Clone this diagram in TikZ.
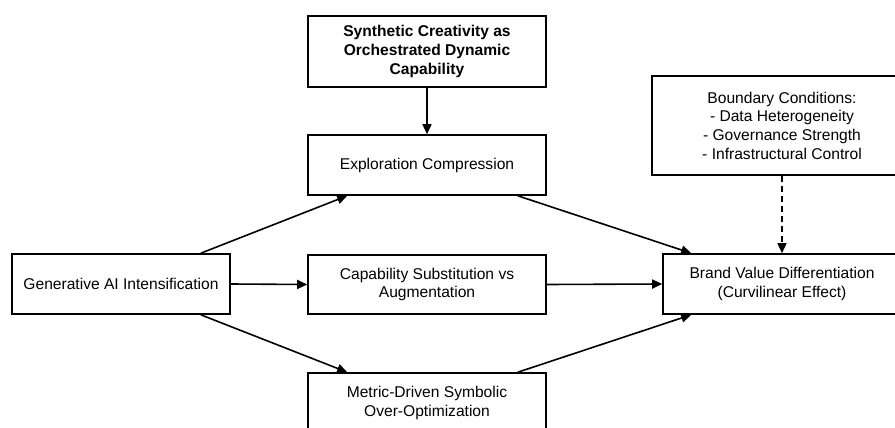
\documentclass[tikz,border=0pt]{standalone}
\usepackage{fontspec}
\setmainfont{Liberation Sans}
\usetikzlibrary{arrows.meta, calc}

\tikzset{
  box/.style={draw, line width=1.6pt, align=center, inner sep=0pt,
    font=\fontsize{15.6}{18.7}\selectfont},
  link/.style={line width=1.6pt, -{Triangle[length=10pt, width=9pt]}}
}

\begin{document}
\begin{tikzpicture}[x=1pt, y=-1pt]
  \useasboundingbox (0,0) rectangle (895,428);
  \clip (0,0) rectangle (895,428);

  % boxes
  \node[box, minimum width=238, minimum height=71, font=\fontsize{15.6}{18.7}\selectfont\bfseries] (syn) at (427,51.5)
    {Synthetic Creativity as\\Orchestrated Dynamic\\Capability};
  \node[box, minimum width=238, minimum height=60] (explore) at (427,165) {Exploration Compression};
  \node[box, minimum width=238, minimum height=59] (subst) at (427,284.5) {Capability Substitution vs\\Augmentation};
  \node[box, minimum width=238, minimum height=60] (metric) at (427,403) {Metric-Driven Symbolic\\Over-Optimization};
  \node[box, minimum width=218, minimum height=60] (genai) at (121,284) {Generative AI Intensification};
  \node[box, minimum width=238, minimum height=60] (brand) at (782,284) {Brand Value Differentiation\\(Curvilinear Effect)};
  \node[box, minimum width=260, minimum height=99] (bound) at (782,125.5)
    {Boundary Conditions:\\- Data Heterogeneity\\- Governance Strength\\- Infrastructural Control};

  % arrows
  \draw[link] (syn.south) -- (explore.north);
  \draw[link] ($(genai.north east)+(-30,0)$) -- ($(explore.south west)+(40,0)$);
  \draw[link] (genai.east) -- (subst.west);
  \draw[link] ($(genai.south east)+(-30,0)$) -- ($(metric.north west)+(40,0)$);
  \draw[link] ($(explore.south east)+(-29,0)$) -- ($(brand.north west)+(29,0)$);
  \draw[link] (subst.east) -- (brand.west);
  \draw[link] ($(metric.north east)+(-29,0)$) -- ($(brand.south west)+(29,0)$);
  \draw[link, dash pattern=on 6pt off 4pt] (bound.south) -- (brand.north);
\end{tikzpicture}
\end{document}
